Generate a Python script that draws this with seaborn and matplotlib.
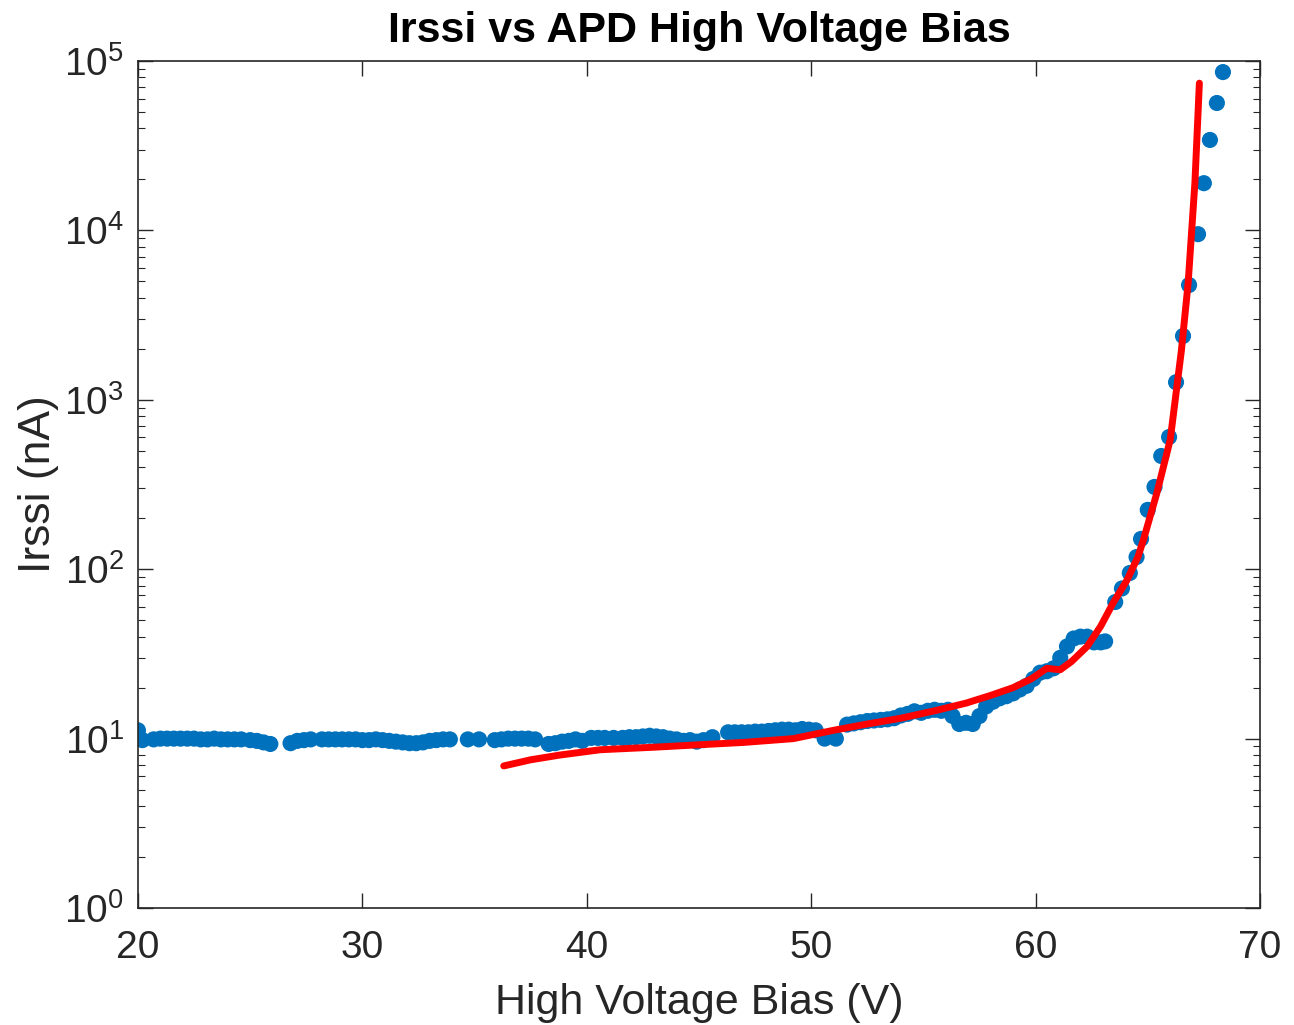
import numpy as np
import pandas as pd
import matplotlib
matplotlib.use("Agg")
import matplotlib.pyplot as plt
import matplotlib.ticker as mticker
import seaborn as sns

# === measured points (V, nA) ===
bias_v = [20.0, 20.2, 20.7, 21.0, 21.3, 21.6, 21.9, 22.2, 22.5, 22.8, 23.1, 23.4,
          23.7, 24.0, 24.3, 24.6, 25.0, 25.3, 25.6, 25.9,
          26.8, 27.1, 27.4, 27.7, 28.2, 28.5, 28.8, 29.1, 29.4, 29.7, 30.0, 30.3,
          30.6, 30.9, 31.2, 31.5, 31.8, 32.1, 32.4, 32.7, 33.0, 33.3, 33.6, 33.9,
          34.7, 35.2, 35.9, 36.2, 36.5, 36.8, 37.1, 37.4, 37.7,
          38.3, 38.6, 38.9, 39.2, 39.5, 39.8, 40.2, 40.5, 40.8, 41.2, 41.6, 41.9,
          42.2, 42.5, 42.8, 43.1, 43.4, 43.7, 44.0, 44.3, 44.6, 44.9, 45.2, 45.6,
          46.3, 46.6, 46.9, 47.2, 47.5, 47.8, 48.1, 48.4, 48.7, 49.0, 49.3, 49.6,
          49.9, 50.2, 50.6, 51.1, 51.6, 51.9, 52.2, 52.5, 52.8, 53.1, 53.4, 53.7,
          54.0, 54.3, 54.6, 54.9, 55.2, 55.5, 55.8, 56.1, 56.3, 56.6, 56.9, 57.2,
          57.5, 57.8, 58.1, 58.4, 58.7, 59.0, 59.3, 59.6, 59.9, 60.2, 60.5, 60.8,
          61.1, 61.4, 61.7, 62.0, 62.3, 62.6, 62.9, 63.1, 63.55, 63.85, 64.2, 64.5,
          64.7, 65.0, 65.3, 65.6, 65.95, 66.26, 66.57, 66.84, 67.24, 67.5, 67.77,
          68.08, 68.35]
irssi_na = [11.2, 9.8, 9.9, 10.0, 10.0, 10.0, 10.0, 10.0, 10.0, 9.9, 9.9, 10.0,
            9.9, 9.9, 9.9, 9.9, 9.8, 9.7, 9.5, 9.3,
            9.4, 9.7, 9.8, 9.9, 9.9, 9.9, 9.9, 9.9, 9.9, 9.9, 9.8, 9.8,
            9.9, 9.8, 9.7, 9.6, 9.5, 9.4, 9.4, 9.5, 9.7, 9.8, 9.9, 9.9,
            9.9, 9.9, 9.8, 9.9, 10.0, 10.0, 10.0, 10.0, 9.9,
            9.3, 9.4, 9.6, 9.7, 9.9, 9.7, 10.1, 10.1, 10.1, 10.1, 10.1, 10.2,
            10.2, 10.3, 10.4, 10.3, 10.2, 10.0, 9.9, 9.7, 9.8, 9.6, 9.8, 10.2,
            10.9, 10.9, 10.9, 10.9, 11.0, 11.0, 11.1, 11.2, 11.3, 11.3, 11.2, 11.4,
            11.3, 11.2, 10.0, 10.0, 12.1, 12.3, 12.5, 12.7, 12.8, 12.9, 13.0, 13.2,
            13.7, 14.0, 14.5, 14.2, 14.6, 14.8, 14.6, 14.8, 13.6, 12.2, 12.4, 12.2,
            13.6, 15.5, 16.5, 17.3, 17.8, 18.5, 19.5, 20.5, 22.5, 24.5, 25.0, 26.0,
            30.0, 35.0, 39.0, 40.0, 40.0, 37.0, 37.0, 37.5, 64.0, 77.0, 95.0, 118.0,
            151.0, 224.0, 306.0, 466.0, 603.0, 1270.0, 2380.0, 4760.0, 9500.0,
            19000.0, 34200.0, 56500.0, 86000.0]

# === fitted curve ===
fit_v = [36.3, 37.5, 38.8, 40.6, 43.0, 45.0, 47.0, 49.2, 51.0, 52.5, 54.0, 55.5,
         56.9, 58.0, 59.0, 59.8, 60.5, 61.1, 61.6, 62.3, 62.9, 63.45, 64.07, 64.56,
         64.8, 65.4, 66.0, 66.5, 66.8, 67.1, 67.3]
fit_na = [6.9, 7.5, 8.0, 8.6, 8.9, 9.2, 9.5, 10.0, 11.2, 12.2, 13.2, 14.6,
          16.2, 18.0, 20.0, 22.5, 26.0, 25.5, 28.5, 35.0, 46.0, 63.0, 86.0, 118.0,
          148.0, 280.0, 580.0, 1960.0, 4900.0, 19000.0, 74000.0]

meas = pd.DataFrame({"v": bias_v, "i": irssi_na})
fit = pd.DataFrame({"v": fit_v, "i": fit_na})

sns.set_style("white")
plt.rcParams["font.family"] = ["Liberation Sans", "DejaVu Sans"]
plt.rcParams["mathtext.fontset"] = "custom"
plt.rcParams["mathtext.rm"] = "Liberation Sans"
plt.rcParams["mathtext.it"] = "Liberation Sans"

fig = plt.figure(figsize=(12.94, 10.25), dpi=100)
ax = fig.add_axes([0.1066, 0.1141, 0.8671, 0.8264])

sns.scatterplot(data=meas, x="v", y="i", ax=ax, color="#0072BD", s=135,
                edgecolor="none", zorder=2)
sns.lineplot(data=fit, x="v", y="i", ax=ax, color="#FF0000", linewidth=5,
             zorder=3, sort=False)

ax.set_yscale("log")
ax.set_xlim(20, 70)
ax.set_ylim(1, 1e5)
ax.set_xticks([20, 30, 40, 50, 60, 70])
ax.yaxis.set_major_locator(mticker.LogLocator(base=10, numticks=10))
ax.yaxis.set_minor_locator(mticker.LogLocator(base=10, subs=np.arange(2, 10), numticks=20))
ax.yaxis.set_major_formatter(mticker.LogFormatterMathtext())
ax.yaxis.set_minor_formatter(mticker.NullFormatter())

for s in ax.spines.values():
    s.set_color("#262626")
    s.set_linewidth(1.2)
ax.tick_params(which="both", direction="in", top=True, right=True,
               bottom=True, left=True, colors="#262626", labelsize=28)
ax.tick_params(which="major", length=11, width=1.0, pad=10)
ax.tick_params(axis="x", which="major", pad=16)
ax.tick_params(which="minor", length=5, width=0.8)

ax.set_xlabel("High Voltage Bias (V)", fontsize=31, color="#262626", labelpad=12)
ax.set_ylabel("Irssi (nA)", fontsize=32, color="#262626", labelpad=4)
ax.set_title("Irssi vs APD High Voltage Bias", fontsize=31, fontweight="bold",
             color="black", pad=14)

fig.savefig("out.png", dpi=100)
